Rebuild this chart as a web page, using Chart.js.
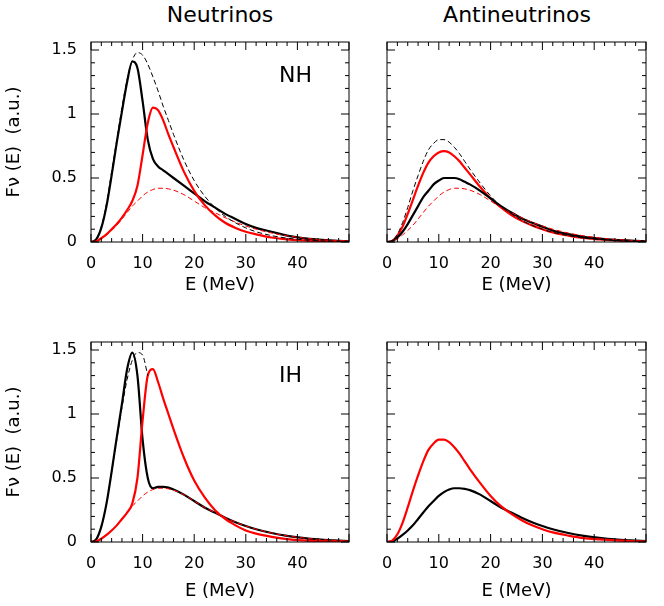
<!DOCTYPE html>
<html><head><meta charset="utf-8">
<script src="https://cdn.jsdelivr.net/npm/chart.js@4"></script>
<style>
body{margin:0;background:#fff;width:664px;height:606px;position:relative;overflow:hidden;font-family:"DejaVu Sans",sans-serif}
.c{position:absolute}
.t{position:absolute;font-size:22px;color:#000;text-align:center}
</style></head><body>
<div class="t" style="left:120px;top:2px;width:200px">Neutrinos</div>
<div class="t" style="left:407px;top:2px;width:220px">Antineutrinos</div>
<div class="c" style="left:0;top:0;width:360px;height:300px"><canvas id="c1"></canvas></div>
<div class="c" style="left:360px;top:0;width:304px;height:300px"><canvas id="c2"></canvas></div>
<div class="c" style="left:0;top:300px;width:360px;height:306px"><canvas id="c3"></canvas></div>
<div class="c" style="left:360px;top:300px;width:304px;height:306px"><canvas id="c4"></canvas></div>
<script>
const energies=[0,1,2,3,4,5,6,7,8,9,10,11,12,13,14,15,16,18,20,22,24,26,28,30,32,35,38,41,44,47,50];
const xTicks=[0,10,20,30,40];
const yTicks=[0,0.5,1,1.5];
const nuE0=[0,0.02,0.12,0.3,0.55,0.8,1.05,1.27,1.42,1.48,1.46,1.39,1.29,1.18,1.06,0.95,0.84,0.64,0.48,0.36,0.27,0.2,0.15,0.11,0.08,0.05,0.03,0.018,0.01,0.006,0.003];
const nuX0=[0,0.005,0.025,0.055,0.09,0.13,0.18,0.23,0.28,0.32,0.36,0.39,0.41,0.42,0.42,0.415,0.405,0.37,0.32,0.27,0.23,0.19,0.155,0.125,0.1,0.07,0.048,0.032,0.02,0.013,0.008];
const nhNuBlack=[0,0.02,0.11,0.28,0.52,0.78,1.02,1.25,1.41,1.36,1.1,0.8,0.65,0.59,0.56,0.53,0.5,0.44,0.38,0.32,0.27,0.22,0.18,0.14,0.11,0.08,0.05,0.03,0.018,0.01,0.006];
const nhNuRed=[0,0.005,0.03,0.06,0.1,0.14,0.19,0.25,0.32,0.44,0.68,0.93,1.05,1.03,0.95,0.84,0.74,0.55,0.4,0.29,0.21,0.15,0.11,0.08,0.06,0.035,0.02,0.012,0.007,0.004,0.002];
const antiE0=[0,0.01,0.06,0.15,0.27,0.4,0.52,0.63,0.72,0.77,0.8,0.8,0.78,0.74,0.69,0.63,0.57,0.46,0.36,0.28,0.22,0.17,0.13,0.1,0.075,0.05,0.03,0.02,0.012,0.007,0.004];
const nhAntiRed=[0,0.008,0.05,0.12,0.22,0.33,0.44,0.54,0.62,0.67,0.7,0.71,0.7,0.67,0.63,0.58,0.53,0.43,0.34,0.27,0.21,0.165,0.13,0.1,0.075,0.05,0.031,0.02,0.012,0.007,0.004];
const nhAntiBlack=[0,0.006,0.035,0.08,0.14,0.21,0.28,0.35,0.4,0.45,0.48,0.5,0.5,0.5,0.49,0.47,0.45,0.4,0.34,0.28,0.23,0.185,0.15,0.12,0.09,0.062,0.04,0.026,0.016,0.01,0.006];
const ihNuBlack=[0,0.02,0.12,0.3,0.55,0.82,1.08,1.35,1.48,1.3,0.8,0.5,0.42,0.43,0.43,0.425,0.41,0.37,0.32,0.27,0.23,0.19,0.155,0.125,0.1,0.07,0.048,0.032,0.02,0.013,0.008];
const ihNuRed=[0,0.005,0.025,0.055,0.09,0.13,0.18,0.23,0.3,0.5,0.95,1.3,1.35,1.25,1.12,1.0,0.88,0.66,0.48,0.35,0.25,0.18,0.13,0.09,0.065,0.04,0.022,0.012,0.007,0.004,0.002];
const ihNuE0=[0,0.02,0.12,0.3,0.55,0.8,1.05,1.27,1.42,1.48,1.46,1.3];

const pts=a=>a.map((v,i)=>({x:energies[i],y:v}));
const ds=(a,color,dashed)=>({data:pts(a),borderColor:color,borderWidth:dashed?1:2.2,borderDash:dashed?[5,3]:[],pointRadius:0,cubicInterpolationMode:'monotone',fill:false});
const BLK='#000',RED='#f00';

const frame={id:'frame',afterDraw(ch){
  const {ctx,chartArea:a,scales:{x,y}}=ch;
  ctx.save();ctx.strokeStyle='#000';ctx.lineWidth=1;
  ctx.strokeRect(a.left,a.top,a.right-a.left,a.bottom-a.top);
  ctx.beginPath();
  for(let v=0;v<=50;v+=2){const p=x.getPixelForValue(v);const L=v%10===0?8:4;
    ctx.moveTo(p,a.bottom);ctx.lineTo(p,a.bottom-L);ctx.moveTo(p,a.top);ctx.lineTo(p,a.top+L);}
  for(let k=0;k<=15;k++){const v=k/10;const p=y.getPixelForValue(v);const L=k%5===0?8:4;
    ctx.moveTo(a.left,p);ctx.lineTo(a.left+L,p);ctx.moveTo(a.right,p);ctx.lineTo(a.right-L,p);}
  ctx.stroke();
  if(ch.options.plugins.frame.label){ctx.fillStyle='#000';ctx.font='22px "DejaVu Sans"';ctx.textAlign='left';ctx.textBaseline='middle';
    ctx.fillText(ch.options.plugins.frame.label,a.left+ch.options.plugins.frame.lx,a.top+34);}
  ctx.restore();}};

function make(id,datasets,left,xH,rightPad,label,lx){
  new Chart(document.getElementById(id),{type:'line',data:{datasets},
  options:{responsive:true,maintainAspectRatio:false,animation:false,
   layout:{padding:{top:42,right:rightPad,left:0,bottom:0}},
   plugins:{legend:{display:false},tooltip:{enabled:false},frame:{label,lx}},
   scales:{
    x:{type:'linear',min:0,max:50,grid:{display:false},border:{display:false},
       afterBuildTicks:s=>{s.ticks=xTicks.map(v=>({value:v}))},
       afterFit:s=>{s.height=xH},
       ticks:{color:'#000',font:{size:16,family:'DejaVu Sans'},padding:4,maxRotation:0},
       title:{display:true,text:'E (MeV)',color:'#000',font:{size:18,family:'DejaVu Sans'},padding:{top:4}}},
    y:{min:0,max:1.5625,grid:{display:false},border:{display:false},
       afterBuildTicks:s=>{s.ticks=yTicks.map(v=>({value:v}))},
       afterFit:s=>{s.width=left},
       ticks:{display:left>50,color:'#000',font:{size:16,family:'DejaVu Sans'},padding:6,callback:v=>String(v)},
       title:{display:left>50,text:'Fν (E)  (a.u.)',color:'#000',font:{size:18,family:'DejaVu Sans'}}}}},
  plugins:[frame]});
}
make('c1',[ds(nuE0,BLK,true),ds(nuX0,RED,true),ds(nhNuRed,RED,false),ds(nhNuBlack,BLK,false)],91,58,11,'NH',188);
make('c2',[ds(antiE0,BLK,true),ds(nuX0,RED,true),ds(nhAntiBlack,BLK,false),ds(nhAntiRed,RED,false)],27,58,18,null,0);
make('c3',[{...ds(ihNuE0,BLK,true),data:pts(ihNuE0)},ds(nuX0,RED,true),ds(ihNuRed,RED,false),ds(ihNuBlack,BLK,false)],91,64,11,'IH',188);
make('c4',[ds(antiE0,RED,false),ds(nuX0,BLK,false)],27,64,18,null,0);
</script></body></html>
